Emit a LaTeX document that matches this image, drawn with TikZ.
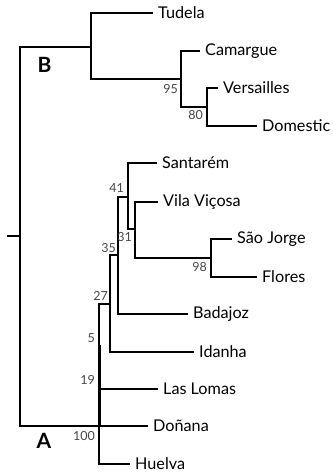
\documentclass[tikz,border=0pt]{standalone}
\usepackage{fontspec}
\setmainfont{Lato}
\begin{document}
\begin{tikzpicture}[x=1pt,y=-1pt,
  br/.style={line width=2.6pt,line join=miter,line cap=butt},
  leaf/.style={anchor=west,inner xsep=5pt,inner ysep=0pt,font=\fontsize{16.2}{18}\selectfont},
  supp/.style={anchor=east,inner sep=0pt,text=black!72,font=\fontsize{12.5}{13}\selectfont},
  clade/.style={inner sep=0pt,font=\fontsize{21}{23}\selectfont\bfseries}]
\useasboundingbox (0,0) rectangle (332,476);
% internal nodes
\coordinate (stub) at (7,236);
\coordinate (R) at (20,236);
\coordinate (nB) at (91,47);
\coordinate (n95) at (181,79);
\coordinate (n80) at (207,107);
\coordinate (nA) at (99,426);
\coordinate (n5) at (99,345);
\coordinate (n27) at (110,304);
\coordinate (n35) at (118,255);
\coordinate (n41) at (128,197);
\coordinate (n31) at (135,229);
\coordinate (n98) at (211,258);
% leaves
\node[leaf] (Tudela) at (153,13) {Tudela};
\node[leaf] (Camargue) at (200,51) {Camargue};
\node[leaf] (Versailles) at (218,88) {Versailles};
\node[leaf] (Domestic) at (257,126) {Domestic};
\node[leaf] (Santarem) at (157,163) {Santarém};
\node[leaf] (Vila) at (158,202) {Vila Viçosa};
\node[leaf] (SaoJorge) at (232,239) {São Jorge};
\node[leaf] (Flores) at (257,277) {Flores};
\node[leaf] (Badajoz) at (188,314) {Badajoz};
\node[leaf] (Idanha) at (194,352) {Idanha};
\node[leaf] (LasLomas) at (158,389) {Las Lomas};
\node[leaf] (Donana) at (148,426) {Doñana};
\node[leaf] (Huelva) at (130,464) {Huelva};
% branches
\draw[br] (stub) -- (R);
\draw[br] (R) |- (nB);
\draw[br] (R) |- (nA);
\draw[br] (nB) |- (Tudela.west);
\draw[br] (nB) |- (n95);
\draw[br] (n95) |- (Camargue.west);
\draw[br] (n95) |- (n80);
\draw[br] (n80) |- (Versailles.west);
\draw[br] (n80) |- (Domestic.west);
\draw[br] (nA) |- (Huelva.west);
\draw[br] (nA) -- (Donana.west);
\draw[br] (nA) |- (LasLomas.west);
\draw[br] (nA) |- (n27);
\draw[line width=3.0pt] (n5) -- (nA);
\draw[br] (n27) |- (Idanha.west);
\draw[br] (n27) |- (n35);
\draw[br] (n35) |- (Badajoz.west);
\draw[br] (n35) |- (n41);
\draw[br] (n41) |- (Santarem.west);
\draw[br] (n41) |- (n31);
\draw[br] (n31) |- (Vila.west);
\draw[br] (n31) |- (n98);
\draw[br] (n98) |- (SaoJorge.west);
\draw[br] (n98) |- (Flores.west);
% support values
\node[supp] (s95) at (178,89) {95};
\node[supp] (s80) at (203,115) {80};
\node[supp] (s41) at (124,188) {41};
\node[supp] (s31) at (132,237.5) {31};
\node[supp] (s35) at (116,248) {35};
\node[supp] (s98) at (207,267) {98};
\node[supp] (s27) at (108,295.5) {27};
\node[supp] (s5) at (95,338) {5};
\node[supp] (s19) at (95,380) {19};
\node[supp] (s100) at (95,436) {100};
% clade labels
\node[clade] (labB) at (44.5,64.5) {B};
\node[clade] (labA) at (44,441) {A};
\end{tikzpicture}
\end{document}
